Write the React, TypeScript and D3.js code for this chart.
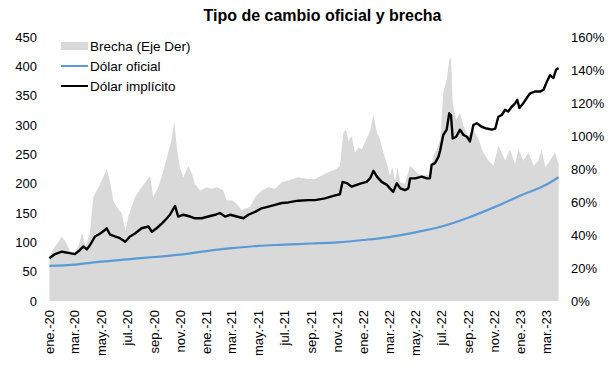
import * as d3 from 'd3'

// Brecha (right axis, %)
const brechaDates = [
  '2020-01-02', '2020-01-15', '2020-01-31', '2020-02-11', '2020-02-19', '2020-03-01', '2020-03-09', '2020-03-18',
  '2020-03-26', '2020-04-05', '2020-04-13', '2020-04-25', '2020-05-06', '2020-05-14', '2020-05-22', '2020-05-29',
  '2020-06-06', '2020-06-18', '2020-06-27', '2020-07-03', '2020-07-19', '2020-08-03', '2020-08-15', '2020-08-23',
  '2020-08-30', '2020-09-11', '2020-09-23', '2020-10-04', '2020-10-12', '2020-10-18', '2020-10-24', '2020-10-31',
  '2020-11-08', '2020-11-20', '2020-11-28', '2020-12-05', '2020-12-17', '2021-01-01', '2021-01-13', '2021-01-25',
  '2021-02-09', '2021-02-17', '2021-03-01', '2021-03-12', '2021-03-24', '2021-04-01', '2021-04-12', '2021-04-24',
  '2021-05-09', '2021-05-25', '2021-06-09', '2021-06-25', '2021-07-10', '2021-08-02', '2021-08-26', '2021-09-10',
  '2021-09-26', '2021-10-11', '2021-10-31', '2021-11-07', '2021-11-15', '2021-11-21', '2021-11-27', '2021-12-04',
  '2021-12-12', '2021-12-20', '2021-12-28', '2022-01-04', '2022-01-16', '2022-01-24', '2022-02-01', '2022-02-08',
  '2022-02-16', '2022-02-24', '2022-03-03', '2022-03-09', '2022-03-15', '2022-03-21', '2022-03-27', '2022-04-07',
  '2022-04-19', '2022-04-27', '2022-05-08', '2022-05-24', '2022-06-04', '2022-06-12', '2022-06-20', '2022-06-28',
  '2022-07-05', '2022-07-13', '2022-07-19', '2022-07-23', '2022-07-27', '2022-08-04', '2022-08-13', '2022-08-21',
  '2022-09-01', '2022-09-13', '2022-09-25', '2022-10-06', '2022-10-18', '2022-10-30', '2022-11-10', '2022-11-18',
  '2022-11-26', '2022-12-07', '2022-12-19', '2022-12-27', '2023-01-07', '2023-01-19', '2023-01-31', '2023-02-11',
  '2023-02-19', '2023-02-27', '2023-03-10', '2023-03-22', '2023-03-30'
]
const brechaValues = [
  27, 33, 39, 35, 30, 29, 33, 41,
  33, 41, 63, 69, 75, 80, 72, 61,
  57, 53, 42, 51, 63, 69, 73, 76,
  63, 69, 79, 90, 98, 109, 93, 81,
  75, 82, 77, 71, 67, 69, 68, 69,
  67, 61, 61, 59, 55, 56, 57, 63,
  67, 69, 68, 72, 73, 75, 74, 74,
  76, 78, 80, 82, 102, 104, 97, 100,
  90, 93, 92, 96, 103, 113, 102, 98,
  90, 83, 76, 81, 73, 81, 72, 71,
  82, 80, 77, 76, 77, 88, 92, 98,
  126, 134, 146, 147, 120, 110, 114, 106,
  100, 104, 98, 90, 85, 82, 94, 90,
  85, 92, 83, 92, 85, 90, 82, 85,
  92, 81, 85, 90, 83
]

// Dólar implícito (left axis)
const implicitoDates = [
  '2020-01-02', '2020-01-15', '2020-01-31', '2020-02-15', '2020-03-01', '2020-03-13', '2020-03-21', '2020-03-29',
  '2020-04-05', '2020-04-17', '2020-04-29', '2020-05-10', '2020-05-14', '2020-05-22', '2020-06-02', '2020-06-14',
  '2020-06-26', '2020-07-07', '2020-07-19', '2020-08-03', '2020-08-19', '2020-08-27', '2020-09-07', '2020-09-19',
  '2020-10-01', '2020-10-08', '2020-10-20', '2020-10-27', '2020-11-08', '2020-11-24', '2020-12-05', '2020-12-21',
  '2021-01-05', '2021-01-21', '2021-02-01', '2021-02-13', '2021-02-25', '2021-03-12', '2021-03-28', '2021-04-08',
  '2021-04-24', '2021-05-09', '2021-05-25', '2021-06-09', '2021-06-25', '2021-07-10', '2021-08-02', '2021-08-26',
  '2021-09-10', '2021-10-03', '2021-10-27', '2021-11-07', '2021-11-13', '2021-11-23', '2021-12-04', '2021-12-16',
  '2021-12-28', '2022-01-08', '2022-01-16', '2022-01-24', '2022-02-01', '2022-02-12', '2022-02-24', '2022-03-03',
  '2022-03-11', '2022-03-19', '2022-03-27', '2022-04-07', '2022-04-15', '2022-04-19', '2022-05-01', '2022-05-16',
  '2022-05-28', '2022-06-04', '2022-06-08', '2022-06-16', '2022-06-24', '2022-06-28', '2022-07-05', '2022-07-13',
  '2022-07-19', '2022-07-23', '2022-07-27', '2022-08-04', '2022-08-13', '2022-08-21', '2022-08-29', '2022-09-05',
  '2022-09-13', '2022-09-21', '2022-10-02', '2022-10-14', '2022-10-26', '2022-11-03', '2022-11-10', '2022-11-18',
  '2022-11-26', '2022-12-03', '2022-12-11', '2022-12-19', '2022-12-24', '2022-12-29', '2023-01-07', '2023-01-15',
  '2023-01-23', '2023-02-03', '2023-02-15', '2023-02-23', '2023-03-03', '2023-03-10', '2023-03-18', '2023-03-24',
  '2023-03-30'
]
const implicitoValues = [
  73, 80, 84, 82, 80, 87, 93, 88,
  95, 110, 115, 121, 124, 113, 110, 107,
  101, 110, 115, 124, 127, 118, 124, 132,
  141, 147, 162, 144, 147, 144, 141, 141,
  144, 147, 150, 144, 147, 144, 141, 147,
  152, 158, 161, 164, 167, 168, 171, 172,
  172, 175, 180, 182, 203, 201, 195, 198,
  201, 203, 209, 222, 212, 203, 198, 192,
  186, 201, 192, 189, 192, 209, 209, 212,
  209, 209, 232, 235, 246, 257, 283, 292,
  320, 317, 277, 280, 292, 283, 280, 272,
  300, 303, 297, 294, 292, 294, 314, 317,
  326, 323, 331, 337, 343, 329, 337, 346,
  354, 357, 357, 360, 374, 385, 380, 394,
  397
]

// Dólar oficial (left axis)
const oficialDates = [
  '2020-01-02', '2020-03-01', '2020-05-01', '2020-07-01', '2020-09-01', '2020-11-01', '2021-01-01',
  '2021-03-01', '2021-05-01', '2021-07-01', '2021-09-01', '2021-11-01', '2022-01-01', '2022-03-01',
  '2022-05-01', '2022-07-01', '2022-09-01', '2022-11-01', '2023-01-01', '2023-03-01', '2023-03-30'
]
const oficialValues = [
  60, 62, 67, 71, 75, 79, 85,
  90, 94, 96, 98, 100, 104, 109,
  117, 127, 142, 160, 180, 198, 211
]

const leftTicks = [0, 50, 100, 150, 200, 250, 300, 350, 400, 450]
const rightTicks = [0, 20, 40, 60, 80, 100, 120, 140, 160]
const monthAbbr = ['ene.', 'feb.', 'mar.', 'abr.', 'may.', 'jun.', 'jul.', 'ago.', 'sep.', 'oct.', 'nov.', 'dic.']

const W = 616, H = 373
const margin = { top: 37, right: 57, bottom: 72, left: 49 }
const font = 'Arial, "Liberation Sans", sans-serif'

const parse = d3.timeParse('%Y-%m-%d')

export default function App() {
  const x = d3.scaleTime()
    .domain([new Date(2020, 0, 1), new Date(2023, 2, 31)])
    .range([margin.left, W - margin.right])
  const yL = d3.scaleLinear().domain([0, 450]).range([H - margin.bottom, margin.top])
  const yR = d3.scaleLinear().domain([0, 160]).range([H - margin.bottom, margin.top])

  const brecha = brechaDates.map((d, i) => ({ date: parse(d) as Date, v: brechaValues[i] }))
  const implicito = implicitoDates.map((d, i) => ({ date: parse(d) as Date, v: implicitoValues[i] }))
  const oficial = oficialDates.map((d, i) => ({ date: parse(d) as Date, v: oficialValues[i] }))

  const area = d3.area<{ date: Date, v: number }>()
    .x(d => x(d.date))
    .y0(yR(0))
    .y1(d => yR(d.v))
  const lineL = d3.line<{ date: Date, v: number }>()
    .x(d => x(d.date))
    .y(d => yL(d.v))
  const oficialLine = d3.line<{ date: Date, v: number }>()
    .x(d => x(d.date))
    .y(d => yL(d.v))
    .curve(d3.curveMonotoneX)

  const xTicks = d3.timeMonth.range(new Date(2020, 0, 1), new Date(2023, 3, 1), 2)
  const fmtYear = d3.timeFormat('%y')

  return (
    <svg width={W} height={H} style={{ position: 'absolute', left: 0, top: 0, background: '#fff' }}
      fontFamily={font}>
      <text x={322.5} y={20.5} textAnchor="middle" fontSize={16} fontWeight="bold">
        Tipo de cambio oficial y brecha
      </text>

      <path d={area(brecha) || ''} fill="#d9d9d9" />
      <path d={oficialLine(oficial) || ''} fill="none" stroke="#5b9bd5" strokeWidth={2.2} />
      <path d={lineL(implicito) || ''} fill="none" stroke="#000" strokeWidth={2.4} strokeLinejoin="round" />

      {leftTicks.map(t => (
        <text key={'l' + t} x={37} y={yL(t)} dy="0.35em" textAnchor="end" fontSize={13}>{t}</text>
      ))}
      {rightTicks.map(t => (
        <text key={'r' + t} x={571} y={yR(t)} dy="0.35em" textAnchor="start" fontSize={13}>{t}%</text>
      ))}
      {xTicks.map(t => (
        <text key={'x' + t.getTime()} transform={`translate(${x(t)},310) rotate(-90)`}
          dy="0.35em" textAnchor="end" fontSize={13}>
          {`${monthAbbr[t.getMonth()]}-${fmtYear(t)}`}
        </text>
      ))}

      <g fontSize={13.5}>
        <rect x={61} y={42} width={27} height={8} fill="#d9d9d9" />
        <text x={90} y={46} dy="0.35em">Brecha (Eje Der)</text>
        <line x1={61} x2={88} y1={66} y2={66} stroke="#5b9bd5" strokeWidth={2} />
        <text x={90} y={66} dy="0.35em">Dólar oficial</text>
        <line x1={61} x2={88} y1={86} y2={86} stroke="#000" strokeWidth={2} />
        <text x={90} y={86} dy="0.35em">Dólar implícito</text>
      </g>
    </svg>
  )
}
